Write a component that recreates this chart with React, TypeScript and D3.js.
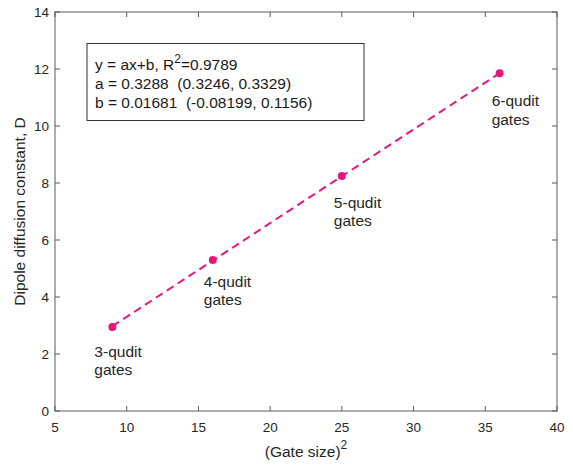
import React from "react";
import * as d3 from "d3";

const gateSizesSq = [9, 16, 25, 36];
const diffusionD = [2.95, 5.3, 8.25, 11.85];
const pointLabels = ["3-qudit", "4-qudit", "5-qudit", "6-qudit"];
const xTicks = [5, 10, 15, 20, 25, 30, 35, 40];
const yTicks = [0, 2, 4, 6, 8, 10, 12, 14];
const fitA = 0.3288;
const fitB = 0.01681;
const fitLines = [
  "a = 0.3288  (0.3246, 0.3329)",
  "b = 0.01681  (-0.08199, 0.1156)",
];

const W = 573, H = 466;
const M = { left: 55, right: 16, top: 12, bottom: 55 };
const FONT = "'Liberation Sans', Arial, sans-serif";
const PINK = "#e5177b";
const AX = "#5a5a5a";

export default function App() {
  const x = d3.scaleLinear().domain([5, 40]).range([M.left, W - M.right]);
  const y = d3.scaleLinear().domain([0, 14]).range([H - M.bottom, M.top]);
  const line = d3.line<number>().x((d) => x(d)).y((d) => y(fitA * d + fitB));
  const fitX = [gateSizesSq[0], gateSizesSq[gateSizesSq.length - 1]];
  const labelOffsets = [
    [-18, 30],
    [-9, 27],
    [-8, 32],
    [-8, 33],
  ];
  const x0 = x(5), x1 = x(40), y0 = y(0), y1 = y(14);
  return (
    <svg width={W} height={H} style={{ position: "absolute", left: 0, top: 0, background: "#fff" }} fontFamily={FONT}>
      <rect x={0} y={0} width={W} height={H} fill="#fff" />
      <rect x={x0} y={y1} width={x1 - x0} height={y0 - y1} fill="none" stroke={AX} strokeWidth={1} />
      {xTicks.map((t) => (
        <g key={"x" + t}>
          <line x1={x(t)} x2={x(t)} y1={y0} y2={y0 - 5} stroke={AX} />
          <line x1={x(t)} x2={x(t)} y1={y1} y2={y1 + 5} stroke={AX} />
          <text x={x(t)} y={y0 + 21} textAnchor="middle" fontSize={13.5} fill="#262626">{t}</text>
        </g>
      ))}
      {yTicks.map((t) => (
        <g key={"y" + t}>
          <line x1={x0} x2={x0 + 5} y1={y(t)} y2={y(t)} stroke={AX} />
          <line x1={x1} x2={x1 - 5} y1={y(t)} y2={y(t)} stroke={AX} />
          <text x={x0 - 6} y={y(t) + 5} textAnchor="end" fontSize={13.5} fill="#262626">{t}</text>
        </g>
      ))}
      <text x={(x0 + x1) / 2} y={457} textAnchor="middle" fontSize={15.5} fill="#262626">
        (Gate size)<tspan dy={-8} fontSize={12}>2</tspan>
      </text>
      <text transform={`translate(25,${(y0 + y1) / 2}) rotate(-90)`} textAnchor="middle" fontSize={15.5} fill="#262626">
        Dipole diffusion constant, D
      </text>
      <path d={line(fitX) || ""} fill="none" stroke={PINK} strokeWidth={2} strokeDasharray="8,5" />
      {gateSizesSq.map((g, i) => (
        <circle key={"p" + i} cx={x(g)} cy={y(diffusionD[i])} r={4} fill={PINK} />
      ))}
      {gateSizesSq.map((g, i) => (
        <text key={"l" + i} x={x(g) + labelOffsets[i][0]} y={y(diffusionD[i]) + labelOffsets[i][1]} fontSize={15.5} fill="#262626">
          <tspan x={x(g) + labelOffsets[i][0]}>{pointLabels[i]}</tspan>
          <tspan x={x(g) + labelOffsets[i][0]} dy={18.5}>gates</tspan>
        </text>
      ))}
      <rect x={87} y={43.5} width={277} height={77} fill="#fff" stroke="#333" strokeWidth={1} />
      <text x={95} y={70} fontSize={15.5} fill="#1a1a1a">
        y = ax+b, R<tspan dy={-7} fontSize={12}>2</tspan><tspan dy={7}>=0.9789</tspan>
      </text>
      {fitLines.map((s, i) => (
        <text key={"f" + i} x={95} y={89 + i * 19} fontSize={15.5} fill="#1a1a1a" style={{ whiteSpace: "pre" }}>
          {s}
        </text>
      ))}
    </svg>
  );
}
